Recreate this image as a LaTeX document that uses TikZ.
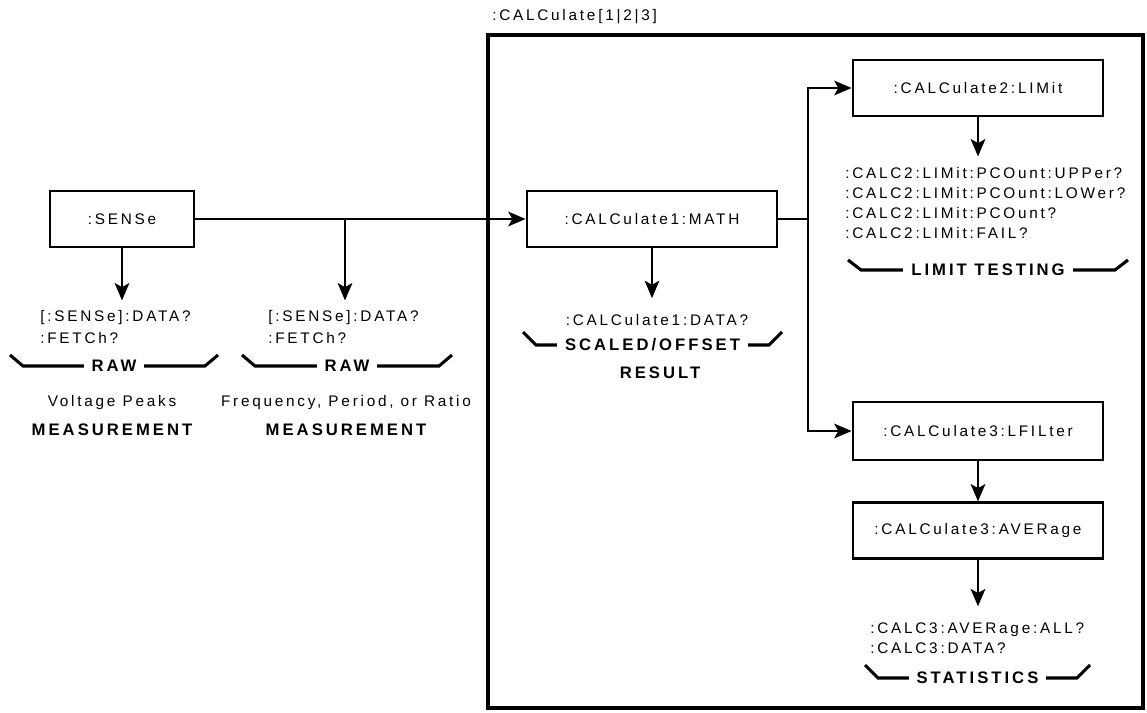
\documentclass[tikz,border=0pt]{standalone}
\usepackage{fontspec}
\setmainfont{Liberation Sans}[LetterSpace=18]
\usetikzlibrary{positioning,arrows.meta,calc}

\begin{document}
\begin{tikzpicture}[x=0.75pt, y=-0.75pt,
  every node/.style={font=\fontsize{11.5}{15}\selectfont},
  box/.style={draw, line width=1.6pt, minimum width=188pt,
              minimum height=42pt, inner sep=0pt},
  conn/.style={line width=1.6pt},
  flow/.style={conn, -{Stealth[length=13pt,width=11pt,inset=3pt]}},
  txt/.style={anchor=west, align=left, inner sep=0pt},
  tag/.style={font=\fontsize{12.5}{15}\selectfont\bfseries, inner sep=0pt},
  gap/.style={tag, fill=white, inner xsep=6pt, inner ysep=2pt},
  brace/.style={line width=2.3pt}]

  \useasboundingbox (0,0) rectangle (1147,713);

  %% ─── Sense block and raw readings ─────────────────────────────────────
  \node[box, minimum width=108pt] (sense) at (122,219) {:SENSe};
  \coordinate (tap) at (345,219);
  \node[txt, font=\fontsize{11.5}{17}\selectfont] (qryA) at (40,327)
      {[:SENSe]:DATA?\\:FETCh?};
  \node[txt, font=\fontsize{11.5}{17}\selectfont] (qryB) at (268,327)
      {[:SENSe]:DATA?\\:FETCh?};
  \draw[flow, shorten >=7pt] (sense) -- (sense |- qryA.north);
  \draw[flow, shorten >=7pt] (tap) -- (tap |- qryB.north);

  \draw[brace] (10,355) -- ++(13,11) -- node[gap] (rawA) {RAW} ++(182,0) -- ++(13,-11);
  \draw[brace] (242,355) -- ++(13,11) -- node[gap] (rawB) {RAW} ++(184,0) -- ++(13,-11);
  \node (voltA) at (112,403) {Voltage Peaks};
  \node (freqB) at (346,403) {Frequency, Period, or Ratio};
  \node[tag] (measA) at (112,430) {MEASUREMENT};
  \node[tag] (measB) at (346,430) {MEASUREMENT};

  %% ─── Calculate group ──────────────────────────────────────────────────
  \draw[line width=3pt] (488,35) rectangle (1143,708);
  \node[anchor=west, inner sep=0pt] (grpname) at (492,17) {:CALCulate[1|2|3]};

  \node[box] (calc1) at (652,219) {:CALCulate1:MATH};
  \draw[flow] (sense) -- (calc1);
  \node[inner sep=0pt] (data1) at (657,320) {:CALCulate1:DATA?};
  \draw[flow, shorten >=12pt] (calc1) -- (calc1 |- data1.north);
  \draw[brace] (523,332) -- ++(13,13) -- node[gap] (scaled) {SCALED/OFFSET} ++(233,0) -- ++(13,-13);
  \node[tag] (result) at (660,373) {RESULT};

  \draw[conn] (calc1.east) -- ++(30,0) coordinate (fork);

  %% limit testing
  \node[box] (calc2) at (978,88) {:CALCulate2:LIMit};
  \draw[flow] (fork) |- (calc2);
  \node[txt] (lim) at (845,203)
      {:CALC2:LIMit:PCOunt:UPPer?\\:CALC2:LIMit:PCOunt:LOWer?\\:CALC2:LIMit:PCOunt?\\:CALC2:LIMit:FAIL?};
  \draw[flow, shorten >=8pt] (calc2) -- (calc2 |- lim.north);
  \draw[brace] (848,260) -- ++(13,10) -- node[gap] (limtest) {LIMIT TESTING} ++(254,0) -- ++(13,-10);

  %% statistics
  \node[box, minimum height=44pt] (lfil) at (978,431) {:CALCulate3:LFILter};
  \draw[flow] (fork) |- (lfil);
  \node[box, below=30pt of lfil] (aver) {:CALCulate3:AVERage};
  \draw[flow] (lfil) -- (aver);
  \node[txt] (stats) at (870,638) {:CALC3:AVERage:ALL?\\:CALC3:DATA?};
  \draw[flow, shorten >=12pt] (aver) -- (aver |- stats.north);
  \draw[brace] (865,665) -- ++(13,13) -- node[gap] (statlbl) {STATISTICS} ++(199,0) -- ++(13,-13);
\end{tikzpicture}
\end{document}
